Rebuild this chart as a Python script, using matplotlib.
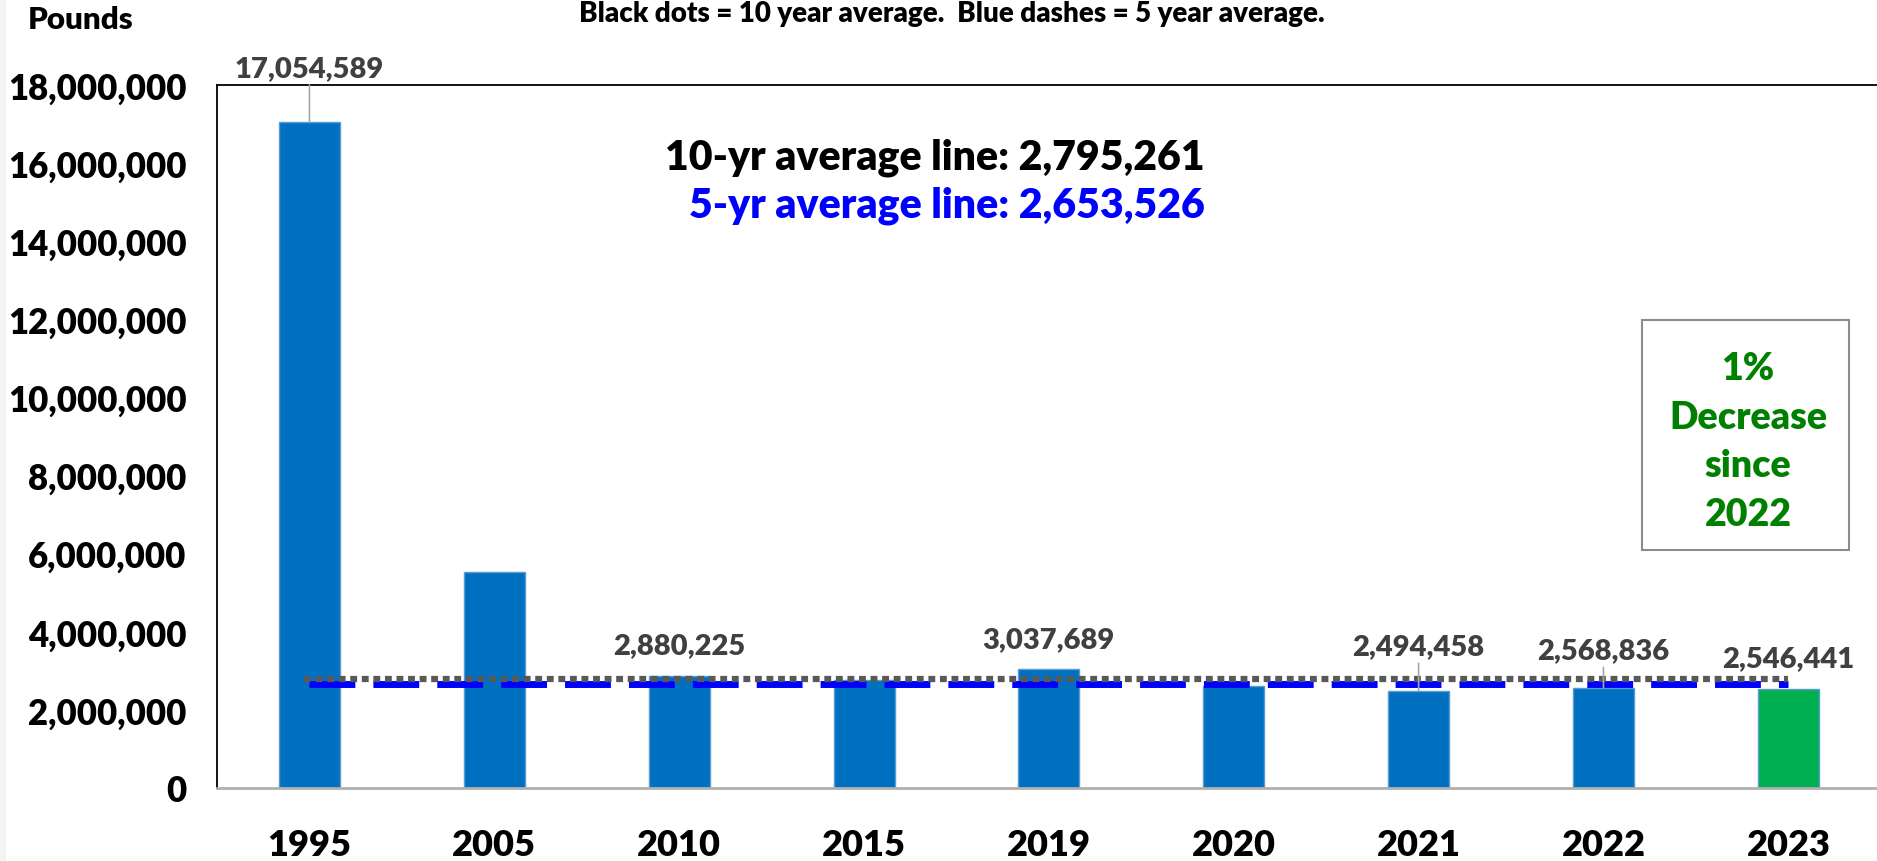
import matplotlib
matplotlib.use("Agg")
import matplotlib.pyplot as plt
from matplotlib.patches import Rectangle

# Data
years = ["1995", "2005", "2010", "2015", "2019", "2020", "2021", "2022", "2023"]
pounds = [17054589, 5530000, 2880225, 2760000, 3037689, 2620206, 2494458, 2568836, 2546441]
labelled_years = ["1995", "2010", "2019", "2021", "2022", "2023"]
avg_10yr = 2795261
avg_5yr = 2653526
yticks = list(range(0, 18000001, 2000000))

FONT = "Lato"
WEIGHT = "heavy"
BAR_BLUE = "#0070C0"
BAR_GREEN = "#00B050"
LABEL_GRAY = "#404040"

W, H, DPI = 1877, 862, 100
fig = plt.figure(figsize=(W / DPI, H / DPI), dpi=DPI)
plt.rcParams["font.family"] = [FONT, "DejaVu Sans"]

ax = fig.add_axes([217 / W, 1 - 789 / H, 1 - 217 / W + 0.002, (789 - 86) / H])

x = list(range(len(years)))
colors = [BAR_GREEN if y == "2023" else BAR_BLUE for y in years]
ax.bar(x, pounds, width=0.33, color=colors, edgecolor="#5B9BD5", linewidth=1.0, zorder=2)

# Average lines
ax.plot([x[0] - 0.03, x[-1]], [avg_10yr, avg_10yr], color="#595959", lw=4.5,
        linestyle=(0, (1.1, 0.75)), solid_capstyle="butt", dash_capstyle="butt", zorder=4)
ax.plot([x[0], x[-1]], [avg_5yr, avg_5yr], color="#0000FF", lw=5.0,
        linestyle=(0, (6.6, 2.6)), dash_capstyle="butt", zorder=3)

# Value labels (offset above bar top in points, with optional leader line)
label_offsets = {"1995": 39, "2010": 22, "2019": 22, "2021": 32, "2022": 27, "2023": 22}
leaders = {"1995", "2021", "2022"}
for i, yr in enumerate(years):
    if yr not in labelled_years:
        continue
    v = pounds[i]
    arrow = dict(arrowstyle="-", color="#A6A6A6", lw=1.2, shrinkA=1, shrinkB=0) if yr in leaders else None
    ax.annotate(f"{v:,}", xy=(i, v), xytext=(0, label_offsets[yr]), textcoords="offset points",
                ha="center", va="center", fontsize=21, fontweight=WEIGHT, color=LABEL_GRAY,
                arrowprops=arrow, zorder=5)

ax.set_xlim(-0.5, len(years) - 0.5)
ax.set_ylim(0, 18000000)
ax.set_yticks(yticks)
ax.set_yticklabels([f"{t:,}" for t in yticks], fontsize=25, fontweight=WEIGHT)
ax.set_xticks(x)
ax.set_xticklabels(years, fontsize=26, fontweight=WEIGHT)
ax.tick_params(axis="y", length=0, pad=22)
ax.tick_params(axis="x", length=0, pad=29)

for side in ["top", "left"]:
    ax.spines[side].set_color("black")
    ax.spines[side].set_linewidth(1.3)
ax.spines["bottom"].set_color("#B0B0B0")
ax.spines["bottom"].set_linewidth(2.0)
ax.spines["right"].set_visible(False)

# Texts
fig.text(81 / W, 1 - 20 / H, "Pounds", ha="center", va="center", fontsize=22.5, fontweight=WEIGHT)
fig.text(952 / W, 1 - 14 / H, "Black dots = 10 year average.  Blue dashes = 5 year average.",
         ha="center", va="center", fontsize=20, fontweight=WEIGHT)
fig.text(1205 / W, 1 - 158 / H, f"10-yr average line: {avg_10yr:,}", ha="right", va="center",
         fontsize=29.5, fontweight=WEIGHT, color="black")
fig.text(1205 / W, 1 - 206 / H, f"5-yr average line: {avg_5yr:,}", ha="right", va="center",
         fontsize=29.5, fontweight=WEIGHT, color="#0000FF")

# Change box
pct = round((pounds[-1] - pounds[-2]) / pounds[-2] * 100)
box = Rectangle((1642 / W, 1 - 551 / H), (1849 - 1642) / W, (551 - 321) / H,
                transform=fig.transFigure, facecolor="white", edgecolor="#8C8C8C", lw=1.5, zorder=6)
fig.patches.append(box)
fig.text(1748 / W, 1 - 442 / H, f"{abs(pct)}%\nDecrease\nsince\n{years[-2]}", ha="center", va="center",
         fontsize=27, fontweight=WEIGHT, color="#008000", linespacing=1.53, zorder=7)

# Faint strip at left edge
fig.patches.append(Rectangle((0, 0), 6 / W, 1, transform=fig.transFigure,
                             facecolor="#F2F4F4", edgecolor="none"))

fig.savefig("out.png", dpi=DPI)
